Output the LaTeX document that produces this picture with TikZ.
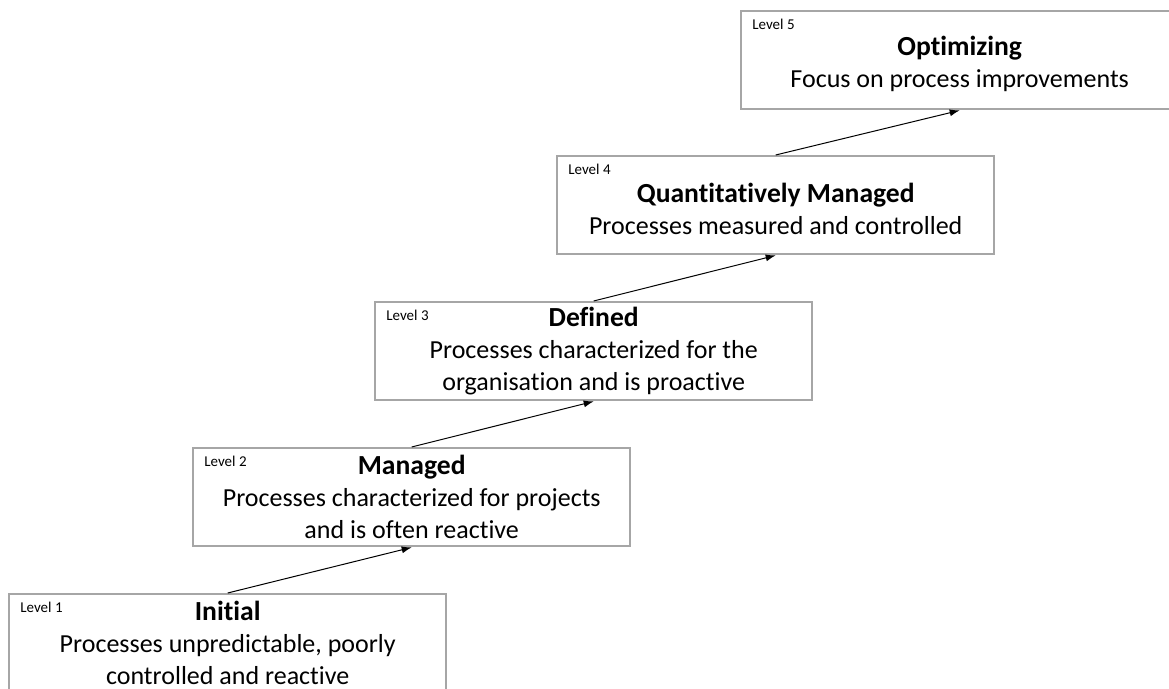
\documentclass[tikz,border=0pt]{standalone}
\usepackage{fontspec}
\setmainfont{Carlito}[Ligatures=NoCommon]
\usetikzlibrary{arrows.meta}
\newcommand{\leveltitle}[1]{{\fontsize{13.8}{16}\selectfont\bfseries #1}}
\tikzset{
  levelbox/.style={draw=black!35, line width=1.2pt, minimum width=218.5pt, minimum height=49pt, anchor=north west, inner sep=0pt},
  leveltext/.style={align=center, inner sep=0pt, font=\fontsize{13}{16}\selectfont},
  levelno/.style={anchor=base west, inner sep=0pt, font=\fontsize{7.5}{9}\selectfont},
  stepline/.style={-{Latex[length=5pt,width=3.5pt]}, line width=0.5pt}
}
\begin{document}
\begin{tikzpicture}[x=0.5pt,y=-0.5pt]
  \useasboundingbox (0,0) rectangle (1169,689);

  \node[levelbox] (l1) at (8,593) {};
  \node[levelbox] (l2) at (192,447) {};
  \node[levelbox] (l3) at (374,301) {};
  \node[levelbox] (l4) at (556,155) {};
  \node[levelbox] (l5) at (740,10) {};

  \node[levelno] (n1) at ([shift={(6pt,-10pt)}]l1.north west) {Level 1};
  \node[levelno] (n2) at ([shift={(6pt,-10pt)}]l2.north west) {Level 2};
  \node[levelno] (n3) at ([shift={(6pt,-10pt)}]l3.north west) {Level 3};
  \node[levelno] (n4) at ([shift={(6pt,-10pt)}]l4.north west) {Level 4};
  \node[levelno] (n5) at ([shift={(6pt,-10pt)}]l5.north west) {Level 5};

  \node[leveltext] (t1) at ([yshift=0pt]l1.center) {\leveltitle{Initial}\\Processes unpredictable, poorly\\controlled and reactive};
  \node[leveltext] (t2) at ([yshift=0pt]l2.center) {\leveltitle{Managed}\\Processes characterized for projects\\and is often reactive};
  \node[leveltext] (t3) at ([yshift=0pt]l3.center) {\leveltitle{Defined}\\Processes characterized for the\\organisation and is proactive};
  \node[leveltext] (t4) at ([yshift=-2pt]l4.center) {\leveltitle{Quantitatively Managed}\\Processes measured and controlled};
  \node[leveltext] (t5) at ([yshift=-2pt]l5.center) {\leveltitle{Optimizing}\\Focus on process improvements};

  \draw[stepline] (l1.north) -- (l2.south);
  \draw[stepline] (l2.north) -- (l3.south);
  \draw[stepline] (l3.north) -- (l4.south);
  \draw[stepline] (l4.north) -- (l5.south);
\end{tikzpicture}
\end{document}
